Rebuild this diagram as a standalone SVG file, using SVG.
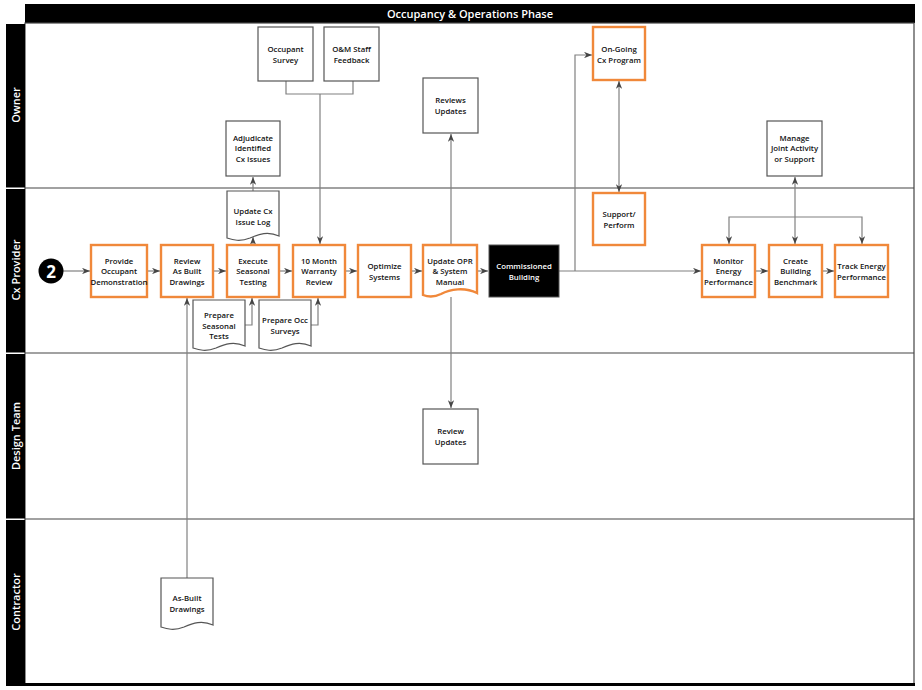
<svg xmlns="http://www.w3.org/2000/svg" width="922" height="690" viewBox="0 0 922 690">
<style>
.t{font-family:"Open Sans","Liberation Sans",sans-serif;font-weight:600;font-size:7.8px;fill:#111;text-anchor:middle}
.tw{fill:#fff}
.ob{fill:#fff;stroke:#F0883A;stroke-width:2.4}
.gb{fill:#fff;stroke:#555;stroke-width:1.2}
.c{fill:none;stroke:#808080;stroke-width:1.2}
.ln{stroke:#444;stroke-width:1.2;fill:none}
.lane{font-family:"Open Sans","Liberation Sans",sans-serif;font-weight:600;font-size:11px;fill:#fff;text-anchor:middle}
</style>
<defs>
<marker id="a" viewBox="0 0 10 8" refX="10" refY="4" markerWidth="8" markerHeight="6.4" orient="auto-start-reverse" markerUnits="userSpaceOnUse"><path d="M0,0 L10,4 L0,8 L3,4 z" fill="#444"/></marker>
</defs>
<rect x="0" y="0" width="922" height="690" fill="#fff"/>
<g id="frame">
<rect x="25" y="4" width="890" height="19" fill="#000"/>
<text x="470" y="18" class="lane" style="font-size:11px">Occupancy &amp; Operations Phase</text>
<rect x="25" y="23" width="889" height="661" class="ln"/>
<line x1="25" y1="188" x2="914" y2="188" class="ln"/>
<line x1="25" y1="353" x2="914" y2="353" class="ln"/>
<line x1="25" y1="519" x2="914" y2="519" class="ln"/>
<rect x="6" y="683" width="909" height="3" fill="#000"/>
<rect x="6" y="24" width="19" height="163.5" fill="#000"/>
<rect x="6" y="189" width="19" height="163.5" fill="#000"/>
<rect x="6" y="354" width="19" height="164.5" fill="#000"/>
<rect x="6" y="520" width="19" height="166" fill="#000"/>
<text class="lane" transform="translate(19.5,105) rotate(-90)">Owner</text>
<text class="lane" transform="translate(19.5,270) rotate(-90)">Cx Provider</text>
<text class="lane" transform="translate(19.5,436) rotate(-90)">Design Team</text>
<text class="lane" transform="translate(19.5,602) rotate(-90)">Contractor</text>
</g>
<g id="connectors">
<path class="c" d="M63,271 H90" marker-end="url(#a)"/>
<path class="c" d="M147,271 H160" marker-end="url(#a)"/>
<path class="c" d="M213,271 H226" marker-end="url(#a)"/>
<path class="c" d="M279,271 H292" marker-end="url(#a)"/>
<path class="c" d="M345,271 H357" marker-end="url(#a)"/>
<path class="c" d="M411,271 H422" marker-end="url(#a)"/>
<path class="c" d="M477,271 H488" marker-end="url(#a)"/>
<path class="c" d="M559,271 H701" marker-end="url(#a)"/>
<path class="c" d="M575,271 V55 H592" marker-end="url(#a)"/>
<path class="c" d="M619,81 V192" marker-start="url(#a)" marker-end="url(#a)"/>
<path class="c" d="M755,271 H768" marker-end="url(#a)"/>
<path class="c" d="M822,271 H834" marker-end="url(#a)"/>
<path class="c" d="M795,177 V244" marker-start="url(#a)" marker-end="url(#a)"/>
<path class="c" d="M729,244 V217 H862 V244" marker-start="url(#a)" marker-end="url(#a)"/>
<path class="c" d="M253,245 V237" marker-end="url(#a)"/>
<path class="c" d="M253,191 V177" marker-end="url(#a)"/>
<path class="c" d="M286,81 V94 H353 V81"/>
<path class="c" d="M320,94 V244" marker-end="url(#a)"/>
<path class="c" d="M451,245 V134" marker-end="url(#a)"/>
<path class="c" d="M451,297 V408" marker-end="url(#a)"/>
<path class="c" d="M245,325 H252 V298" marker-end="url(#a)"/>
<path class="c" d="M311,325 H318 V298" marker-end="url(#a)"/>
<path class="c" d="M187,578 V298" marker-end="url(#a)"/>
</g>
<g id="start">
<circle cx="51" cy="271" r="12.5" fill="#000"/>
<text x="51" y="277.5" class="t tw" style="font-size:17px;font-weight:700">2</text>
</g>
<g id="provide">
<rect x="91" y="245" width="56" height="52" class="ob"/>
<text class="t"><tspan x="119" y="263.5">Provide</tspan><tspan x="119" y="274">Occupant</tspan><tspan x="119" y="284.5">Demonstration</tspan></text>
</g>
<g id="review-asbuilt">
<rect x="161" y="245" width="52" height="52" class="ob"/>
<text class="t"><tspan x="187" y="263.5">Review</tspan><tspan x="187" y="274">As Built</tspan><tspan x="187" y="284.5">Drawings</tspan></text>
</g>
<g id="execute">
<rect x="227" y="245" width="52" height="52" class="ob"/>
<text class="t"><tspan x="253" y="263.5">Execute</tspan><tspan x="253" y="274">Seasonal</tspan><tspan x="253" y="284.5">Testing</tspan></text>
</g>
<g id="warranty">
<rect x="293" y="245" width="52" height="52" class="ob"/>
<text class="t"><tspan x="319" y="263.5">10 Month</tspan><tspan x="319" y="274">Warranty</tspan><tspan x="319" y="284.5">Review</tspan></text>
</g>
<g id="optimize">
<rect x="358" y="245" width="53" height="52" class="ob"/>
<text class="t"><tspan x="384.5" y="269">Optimize</tspan><tspan x="384.5" y="279.5">Systems</tspan></text>
</g>
<g id="update-opr">
<path d="M423,245 H477 V293 C465,287 450,289 441,294 C433,298 428,297 423,295 Z" class="ob"/>
<text class="t"><tspan x="450" y="263.5">Update OPR</tspan><tspan x="450" y="274">&amp; System</tspan><tspan x="450" y="284.5">Manual</tspan></text>
</g>
<g id="commissioned">
<rect x="489" y="245" width="70" height="52" fill="#000" stroke="#555" stroke-width="1"/>
<text class="t tw"><tspan x="524" y="269">Commissioned</tspan><tspan x="524" y="279.5">Building</tspan></text>
</g>
<g id="monitor">
<rect x="702" y="245" width="53" height="52" class="ob"/>
<text class="t"><tspan x="728.5" y="263.5">Monitor</tspan><tspan x="728.5" y="274">Energy</tspan><tspan x="728.5" y="284.5">Performance</tspan></text>
</g>
<g id="benchmark">
<rect x="769" y="245" width="53" height="52" class="ob"/>
<text class="t"><tspan x="795.5" y="263.5">Create</tspan><tspan x="795.5" y="274">Building</tspan><tspan x="795.5" y="284.5">Benchmark</tspan></text>
</g>
<g id="track">
<rect x="835" y="245" width="53" height="52" class="ob"/>
<text class="t"><tspan x="861.5" y="269">Track Energy</tspan><tspan x="861.5" y="279.5">Performance</tspan></text>
</g>
<g id="ongoing">
<rect x="593" y="27" width="52" height="53" class="ob"/>
<text class="t"><tspan x="619" y="52">On-Going</tspan><tspan x="619" y="62.5">Cx Program</tspan></text>
</g>
<g id="support">
<rect x="593" y="193" width="52" height="52" class="ob"/>
<text class="t"><tspan x="619" y="217">Support/</tspan><tspan x="619" y="227.5">Perform</tspan></text>
</g>
<g id="manage">
<rect x="767" y="121" width="55" height="55" class="gb"/>
<text class="t"><tspan x="794.5" y="140.5">Manage</tspan><tspan x="794.5" y="151">Joint Activity</tspan><tspan x="794.5" y="161.5">or Support</tspan></text>
</g>
<g id="occ-survey">
<rect x="258" y="27" width="55" height="54" class="gb"/>
<text class="t"><tspan x="285.5" y="52">Occupant</tspan><tspan x="285.5" y="63">Survey</tspan></text>
</g>
<g id="om-feedback">
<rect x="324" y="27" width="55" height="54" class="gb"/>
<text class="t"><tspan x="351.5" y="52">O&amp;M Staff</tspan><tspan x="351.5" y="63">Feedback</tspan></text>
</g>
<g id="adjudicate">
<rect x="226" y="121" width="54" height="55" class="gb"/>
<text class="t"><tspan x="253" y="140.5">Adjudicate</tspan><tspan x="253" y="151">Identified</tspan><tspan x="253" y="161.5">Cx Issues</tspan></text>
</g>
<g id="reviews-updates-owner">
<rect x="423" y="78" width="55" height="55" class="gb"/>
<text class="t"><tspan x="450.5" y="103">Reviews</tspan><tspan x="450.5" y="114">Updates</tspan></text>
</g>
<g id="issue-log">
<path d="M227,191 H279 V236 C268,231 259,234 250,238 C240,242 233,240 227,238 Z" class="gb"/>
<text class="t"><tspan x="253" y="214">Update Cx</tspan><tspan x="253" y="224.5">Issue Log</tspan></text>
</g>
<g id="prep-seasonal">
<path d="M193,300 H245 V346 C234,341 225,344 216,348 C206,352 199,350 193,348 Z" class="gb"/>
<text class="t"><tspan x="219" y="318">Prepare</tspan><tspan x="219" y="328.5">Seasonal</tspan><tspan x="219" y="339">Tests</tspan></text>
</g>
<g id="prep-occ">
<path d="M259,300 H311 V346 C300,341 291,344 282,348 C272,352 265,350 259,348 Z" class="gb"/>
<text class="t"><tspan x="285" y="323">Prepare Occ</tspan><tspan x="285" y="333.5">Surveys</tspan></text>
</g>
<g id="review-updates-design">
<rect x="423" y="409" width="55" height="55" class="gb"/>
<text class="t"><tspan x="450.5" y="434">Review</tspan><tspan x="450.5" y="445">Updates</tspan></text>
</g>
<g id="asbuilt">
<path d="M161,578 H213 V625 C202,620 193,623 184,627 C174,631 167,629 161,627 Z" class="gb"/>
<text class="t"><tspan x="187" y="601">As-Built</tspan><tspan x="187" y="611.5">Drawings</tspan></text>
</g>
</svg>
